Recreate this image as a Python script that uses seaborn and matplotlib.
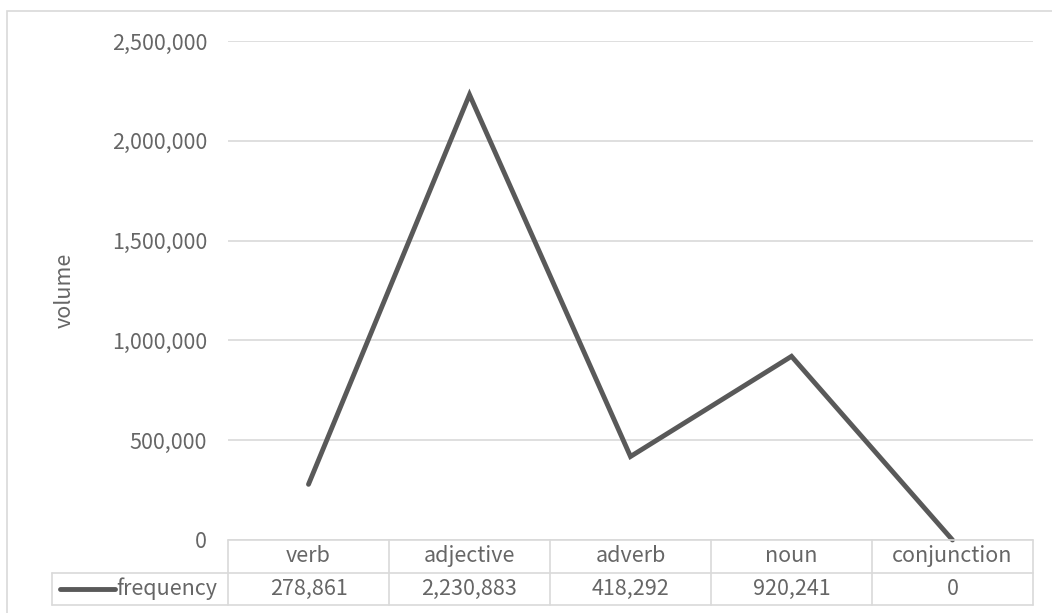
import numpy as np
import pandas as pd
import matplotlib
matplotlib.use('Agg')
import matplotlib.pyplot as plt
import matplotlib.ticker as mticker
from matplotlib.patches import Rectangle
from matplotlib.lines import Line2D
import seaborn as sns

# data
categories = ['verb', 'adjective', 'adverb', 'noun', 'conjunction']
frequency = [278861, 2230883, 418292, 920241, 0]
series_name = 'frequency'
y_label = 'volume'
y_ticks = [0, 500000, 1000000, 1500000, 2000000, 2500000]

df = pd.DataFrame({'category': categories, 'value': frequency})

sns.set_style('white')
plt.rcParams['font.family'] = ['Noto Sans CJK SC', 'DejaVu Sans']

W, H = 1052, 613
txt = '#666666'
grid = '#d9d9d9'
line_c = '#595959'
fs = 15.5

fig = plt.figure(figsize=(W / 100, H / 100), dpi=100)
# pixel layout of the plot area
L, R, T, B = 228, 1033, 41, 540
ax = fig.add_axes([L / W, 1 - B / H, (R - L) / W, (B - T) / H])

# outer chart border
fig.patches.append(Rectangle((7 / W, -0.1), 1.2, 1 - 11 / H + 0.1, transform=fig.transFigure,
                             fill=False, edgecolor=grid, lw=1.2))

sns.lineplot(data=df, x='category', y='value', ax=ax, color=line_c, lw=3.5,
             sort=False, solid_capstyle='round', solid_joinstyle='miter', clip_on=False)

ax.set_xlim(-0.5, len(categories) - 0.5)
ax.set_ylim(0, 2500000)
ax.set_yticks(y_ticks)
ax.yaxis.set_major_formatter(mticker.FuncFormatter(lambda v, p: f'{v:,.0f}'))
ax.grid(axis='y', color=grid, lw=1.2)
ax.set_axisbelow(True)
ax.tick_params(axis='y', length=0, pad=15, labelsize=fs, labelcolor=txt)
ax.set_xticks([])
ax.set_xlabel('')
ax.set_ylabel(y_label, fontsize=fs, color=txt)
ax.yaxis.set_label_coords((76 - L) / (R - L), 0.5)
for s in ax.spines.values():
    s.set_visible(False)

# data table under the plot
axh = B - T
row = 32.5 / axh
n = len(categories)
def xa(px):
    return (px - L) / (R - L)
lk = dict(color=grid, lw=1.2, transform=ax.transAxes, clip_on=False)
ax.add_line(Line2D([0, 1], [0, 0], **lk))
ax.add_line(Line2D([xa(52), 1], [-row, -row], **lk))
ax.add_line(Line2D([xa(52), 1], [-2 * row, -2 * row], **lk))
ax.add_line(Line2D([xa(52), xa(52)], [-row, -2 * row], **lk))
for i in range(n + 1):
    ax.add_line(Line2D([i / n, i / n], [0, -2 * row], **lk))
for i, (c, v) in enumerate(zip(categories, frequency)):
    xc = (i + 0.5) / n
    ax.text(xc, -0.5 * row, c, ha='center', va='center', fontsize=fs, color=txt,
            transform=ax.transAxes)
    ax.text(xc, -1.5 * row, f'{v:,}', ha='center', va='center', fontsize=fs, color=txt,
            transform=ax.transAxes)
ax.add_line(Line2D([xa(60), xa(115)], [-1.5 * row, -1.5 * row], color=line_c, lw=3.5,
                   solid_capstyle='round', transform=ax.transAxes, clip_on=False))
ax.text(xa(116), -1.5 * row, series_name, ha='left', va='center', fontsize=fs, color=txt,
        transform=ax.transAxes)

fig.savefig('out.png', dpi=100)
